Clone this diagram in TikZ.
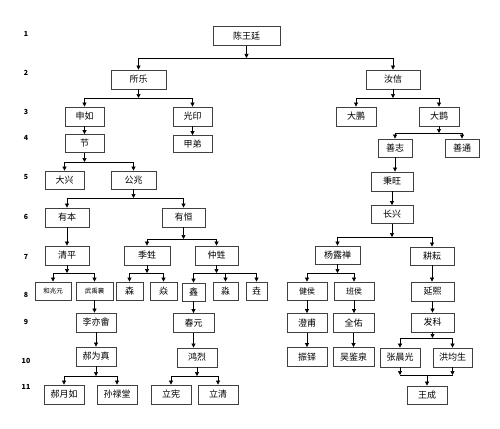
\documentclass[tikz,border=0pt]{standalone}
\usepackage{fontspec}
\setmainfont{Noto Sans CJK SC}
\usetikzlibrary{arrows.meta}

\begin{document}
\begin{tikzpicture}[x=1pt,y=-1pt,>={Triangle[length=4pt,width=4pt]},
  box/.style={draw=black!75,line width=0.8pt,minimum height=19pt,inner sep=0pt,font=\fontsize{9}{9}\selectfont},
  sbox/.style={box,font=\fontsize{6.5}{7}\selectfont},
  lvl/.style={font=\bfseries\fontsize{7}{7}\selectfont},
  link/.style={->,line width=0.7pt},
  bus/.style={line width=0.7pt}]
\useasboundingbox (0,0) rectangle (500,428);

% generation numbers
\foreach \g/\y in {1/34,2/73,3/112,4/138,5/177,6/217,7/257,8/295,9/322,10/361,11/387}
  \node[lvl] (g\g) at (26,\y) {\g};

% generation 1-4
\node[box,minimum width=67pt] (chen) at (246.5,36) {陈王廷};
\node[box,minimum width=55pt] (suole) at (138.5,79.5) {所乐};
\node[box,minimum width=54pt] (ruxin) at (393,79.5) {汝信};
\node[box,minimum width=39pt] (shenru) at (84.5,116.5) {申如};
\node[box,minimum width=39pt] (guangyin) at (192.5,116.5) {光印};
\node[box,minimum width=40pt] (dapeng) at (356,116.5) {大鹏};
\node[box,minimum width=40pt] (dakun) at (439,116.5) {大鹍};
\node[box,minimum width=39pt,minimum height=18pt] (jie) at (84.5,143.5) {节};
\node[box,minimum width=39pt,minimum height=17pt] (jiadi) at (192.5,144) {甲弟};
\node[box,minimum width=34pt,minimum height=18pt] (shanzhi) at (395,148) {善志};
\node[box,minimum width=34pt,minimum height=18pt] (shantong) at (462,148) {善通};

% generation 5-7
\node[box,minimum width=39pt,minimum height=18pt] (daxing) at (64.5,180) {大兴};
\node[box,minimum width=45pt,minimum height=18pt] (gongzhao) at (133.5,180) {公兆};
\node[box,minimum width=42pt] (bingwang) at (392,181.5) {秉旺};
\node[box,minimum width=42pt,minimum height=18pt] (changxing) at (392,214.5) {长兴};
\node[box,minimum width=44pt] (youben) at (67,217.5) {有本};
\node[box,minimum width=43pt] (youheng) at (183.5,217.5) {有恒};
\node[box,minimum width=44pt] (qingping) at (67,255.5) {清平};
\node[box,minimum width=46pt] (jishen) at (147,255.5) {季甡};
\node[box,minimum width=43pt] (zhongshen) at (216.5,255.5) {仲甡};
\node[box,minimum width=45pt,minimum height=18pt] (yang) at (337.5,255) {杨露禅};
\node[box,minimum width=44pt,minimum height=18pt] (gengyun) at (432,256) {耕耘};

% generation 8
\node[sbox,minimum width=36pt,minimum height=18pt] (hezhao) at (53,291) {和兆元};
\node[sbox,minimum width=37pt,minimum height=18pt] (wuyu) at (94.5,291) {武禹襄};
\node[box,minimum width=27pt,minimum height=18pt] (sen) at (129.5,291) {森};
\node[box,minimum width=27pt,minimum height=18pt] (yan) at (163.5,291) {焱};
\node[box,minimum width=23pt,minimum height=18pt] (xin) at (193.5,292) {鑫};
\node[box,minimum width=25pt,minimum height=18pt] (miao) at (225.5,291) {淼};
\node[box,minimum width=21pt,minimum height=18pt] (yao) at (256.5,291) {垚};
\node[box,minimum width=40pt,minimum height=18pt,font=\fontsize{8}{8}\selectfont] (jianhou) at (307,291) {健侯};
\node[box,minimum width=40pt,minimum height=18pt,font=\fontsize{8}{8}\selectfont] (banhou) at (354,291) {班侯};
\node[box,minimum width=43pt] (yanxi) at (432.5,291.5) {延熙};

% generation 9-11
\node[box,minimum width=40pt] (liyi) at (96,322.5) {李亦畬};
\node[box,minimum width=41pt] (chunyuan) at (193.5,323) {春元};
\node[box,minimum width=40pt] (chengfu) at (307,323) {澄甫};
\node[box,minimum width=41pt] (quanyou) at (353.5,323) {全佑};
\node[box,minimum width=43pt] (fake) at (432.5,322.5) {发科};
\node[box,minimum width=40pt] (haowei) at (96,356.5) {郝为真};
\node[box,minimum width=40pt] (honglie) at (197,357.5) {鸿烈};
\node[box,minimum width=40pt] (zhenduo) at (307,357) {振铎};
\node[box,minimum width=41pt] (wujian) at (353.5,357) {吴鉴泉};
\node[box,minimum width=40pt] (zhangchen) at (400,357.5) {张晨光};
\node[box,minimum width=39pt] (hongjun) at (452.5,357.5) {洪均生};
\node[box,minimum width=40pt] (haoyue) at (64,394.5) {郝月如};
\node[box,minimum width=40pt] (sunlu) at (117,394.5) {孙禄堂};
\node[box,minimum width=40pt] (lixian) at (171,394.5) {立宪};
\node[box,minimum width=40pt] (liqing) at (218,394.5) {立清};
\node[box,minimum width=40pt,minimum height=18pt] (wangcheng) at (427,395) {王成};

% parents with two children
\foreach \p/\a/\b/\y in {chen/suole/ruxin/58,suole/shenru/guangyin/98,ruxin/dapeng/dakun/98,
  dakun/shanzhi/shantong/133,jie/daxing/gongzhao/162,gongzhao/youben/youheng/198,
  youheng/jishen/zhongshen/239,changxing/yang/gengyun/237,qingping/hezhao/wuyu/273,
  jishen/sen/yan/273,yang/jianhou/banhou/273,fake/zhangchen/hongjun/338,
  haowei/haoyue/sunlu/376,honglie/lixian/liqing/376}{
  \draw[link] (\p.south) -- (\p.south |- 0,\y);
  \draw[bus] (\a.north |- 0,\y) -- (\b.north |- 0,\y);
  \draw[link] (\a.north |- 0,\y) -- (\a.north);
  \draw[link] (\b.north |- 0,\y) -- (\b.north);
}
% three children
\draw[link] (zhongshen.south) -- (zhongshen.south |- 0,273);
\draw[bus] (xin.north |- 0,273) -- (yao.north |- 0,273);
\foreach \k in {xin,miao,yao}
  \draw[link] (\k.north |- 0,273) -- (\k.north);

% single lines
\foreach \a/\b in {shenru/jie,guangyin/jiadi,shanzhi/bingwang,bingwang/changxing,youben/qingping,
  gengyun/yanxi,yanxi/fake,wuyu/liyi,liyi/haowei,xin/chunyuan,chunyuan/honglie,
  jianhou/chengfu,chengfu/zhenduo,banhou/quanyou,quanyou/wujian}
  \draw[link] (\a.south) -- (\a.south |- \b.north);

% two teachers, one pupil
\draw[link] (zhangchen.south) -- (zhangchen.south |- 0,375);
\draw[link] (hongjun.south) -- (hongjun.south |- 0,375);
\draw[bus] (zhangchen.south |- 0,375) -- (hongjun.south |- 0,375);
\draw[link] (wangcheng.north |- 0,375) -- (wangcheng.north);
\end{tikzpicture}
\end{document}
